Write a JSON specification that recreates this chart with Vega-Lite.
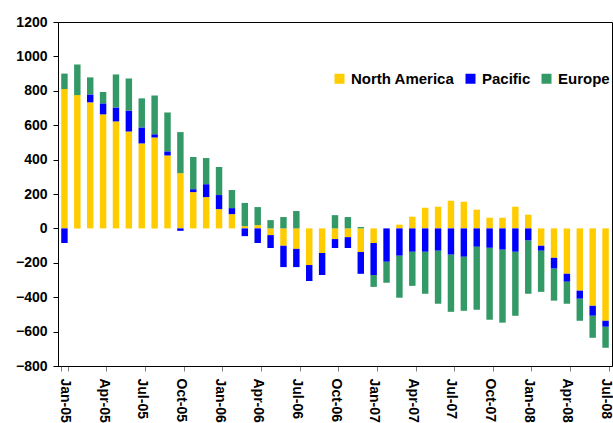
{
  "$schema": "https://vega.github.io/schema/vega-lite/v6.json",
  "autosize": {"type": "none"},
  "width": 554,
  "height": 344,
  "padding": {"left": 58, "top": 22, "right": 1, "bottom": 57},
  "background": "white",
  "config": {
    "view": {"stroke": "#000000", "strokeWidth": 1},
    "font": "Liberation Sans"
  },
  "datasets": {
    "series": [
      {"s": "North America", "k": 0},
      {"s": "Pacific", "k": 1},
      {"s": "Europe", "k": 2}
    ]
  },
  "data": {
    "values": [
      {"m": "Jan-05", "North America": 810, "Pacific": -85, "Europe": 90},
      {"m": "Feb-05", "North America": 775, "Pacific": 0, "Europe": 178},
      {"m": "Mar-05", "North America": 733, "Pacific": 46, "Europe": 99},
      {"m": "Apr-05", "North America": 663, "Pacific": 64, "Europe": 66},
      {"m": "May-05", "North America": 622, "Pacific": 81, "Europe": 192},
      {"m": "Jun-05", "North America": 564, "Pacific": 122, "Europe": 186},
      {"m": "Jul-05", "North America": 494, "Pacific": 93, "Europe": 169},
      {"m": "Aug-05", "North America": 529, "Pacific": 18, "Europe": 226},
      {"m": "Sep-05", "North America": 424, "Pacific": 24, "Europe": 226},
      {"m": "Oct-05", "North America": 321, "Pacific": -14, "Europe": 239},
      {"m": "Nov-05", "North America": 211, "Pacific": 17, "Europe": 187},
      {"m": "Dec-05", "North America": 182, "Pacific": 75, "Europe": 152},
      {"m": "Jan-06", "North America": 112, "Pacific": 82, "Europe": 163},
      {"m": "Feb-06", "North America": 83, "Pacific": 35, "Europe": 105},
      {"m": "Mar-06", "North America": 13, "Pacific": -45, "Europe": 135},
      {"m": "Apr-06", "North America": 19, "Pacific": -85, "Europe": 105},
      {"m": "May-06", "North America": -39, "Pacific": -75, "Europe": 48},
      {"m": "Jun-06", "North America": -101, "Pacific": -124, "Europe": 66},
      {"m": "Jul-06", "North America": -119, "Pacific": -106, "Europe": 101},
      {"m": "Aug-06", "North America": -213, "Pacific": -93, "Europe": 0},
      {"m": "Sep-06", "North America": -143, "Pacific": -128, "Europe": 0},
      {"m": "Oct-06", "North America": -62, "Pacific": -52, "Europe": 77},
      {"m": "Nov-06", "North America": -51, "Pacific": -63, "Europe": 66},
      {"m": "Dec-06", "North America": -137, "Pacific": -127, "Europe": 8},
      {"m": "Jan-07", "North America": -85, "Pacific": -186, "Europe": -69},
      {"m": "Feb-07", "North America": 0, "Pacific": -194, "Europe": -122},
      {"m": "Mar-07", "North America": 22, "Pacific": -159, "Europe": -244},
      {"m": "Apr-07", "North America": 68, "Pacific": -136, "Europe": -198},
      {"m": "May-07", "North America": 120, "Pacific": -136, "Europe": -244},
      {"m": "Jun-07", "North America": 126, "Pacific": -130, "Europe": -308},
      {"m": "Jul-07", "North America": 161, "Pacific": -153, "Europe": -332},
      {"m": "Aug-07", "North America": 155, "Pacific": -165, "Europe": -314},
      {"m": "Sep-07", "North America": 109, "Pacific": -107, "Europe": -366},
      {"m": "Oct-07", "North America": 62, "Pacific": -113, "Europe": -418},
      {"m": "Nov-07", "North America": 62, "Pacific": -124, "Europe": -424},
      {"m": "Dec-07", "North America": 126, "Pacific": -136, "Europe": -372},
      {"m": "Jan-08", "North America": 80, "Pacific": -71, "Europe": -309},
      {"m": "Feb-08", "North America": -101, "Pacific": -29, "Europe": -239},
      {"m": "Mar-08", "North America": -171, "Pacific": -63, "Europe": -186},
      {"m": "Apr-08", "North America": -263, "Pacific": -47, "Europe": -128},
      {"m": "May-08", "North America": -362, "Pacific": -47, "Europe": -128},
      {"m": "Jun-08", "North America": -450, "Pacific": -58, "Europe": -128},
      {"m": "Jul-08", "North America": -537, "Pacific": -35, "Europe": -122}
    ]
  },
  "transform": [
    {"fold": ["North America", "Pacific", "Europe"], "as": ["s", "v"]},
    {"lookup": "s", "from": {"data": {"name": "series"}, "key": "s", "fields": ["k"]}}
  ],
  "encoding": {
    "x": {
      "field": "m",
      "type": "ordinal",
      "sort": null,
      "scale": {"paddingInner": 0.5, "paddingOuter": 0.25},
      "axis": {
        "title": null,
        "values": ["Jan-05","Apr-05","Jul-05","Oct-05","Jan-06","Apr-06","Jul-06","Oct-06","Jan-07","Apr-07","Jul-07","Oct-07","Jan-08","Apr-08","Jul-08"],
        "labelAngle": 90,
        "labelAlign": "left",
        "labelBaseline": "middle",
        "labelFont": "Liberation Sans",
        "labelFontWeight": "bold",
        "labelFontSize": 14,
        "labelColor": "#000000",
        "labelPadding": 7,
        "tickBand": "extent",
        "ticks": true,
        "tickSize": 5,
        "tickColor": "#808080",
        "domainColor": "#000000",
        "labelOverlap": false,
        "labelBound": false
      }
    }
  },
  "layer": [
    {
      "mark": {"type": "bar"},
      "encoding": {
        "y": {
          "field": "v",
          "type": "quantitative",
          "stack": "zero",
          "scale": {"domain": [-800, 1200], "nice": false, "zero": false},
          "axis": {
            "title": null,
            "values": [-800, -600, -400, -200, 0, 200, 400, 600, 800, 1000, 1200],
            "format": "d",
            "grid": false,
            "labelOverlap": false,
            "labelFlush": false,
            "labelFont": "Liberation Sans",
            "labelFontWeight": "bold",
            "labelFontSize": 14,
            "labelColor": "#000000",
            "labelPadding": 6,
            "tickSize": 5,
            "tickColor": "#000000",
            "domainColor": "#000000"
          }
        },
        "color": {
          "field": "s",
          "type": "nominal",
          "sort": ["North America", "Pacific", "Europe"],
          "scale": {
            "domain": ["North America", "Pacific", "Europe"],
            "range": ["#FFCC00", "#0000FF", "#339966"]
          },
          "legend": {
            "title": null,
            "orient": "none",
            "legendX": 274,
            "legendY": 49,
            "direction": "horizontal",
            "padding": 0,
            "symbolType": "square",
            "symbolSize": 100,
            "symbolStrokeWidth": 0,
            "symbolOpacity": 1,
            "labelFont": "Liberation Sans",
            "labelFontWeight": "bold",
            "labelFontSize": 15,
            "labelColor": "#000000",
            "labelOffset": 4,
            "columnPadding": 8,
            "labelLimit": 300
          }
        },
        "order": {"field": "k", "type": "quantitative", "sort": "ascending"}
      }
    },
    {
      "mark": {"type": "rule", "color": "#000000", "strokeWidth": 1.5},
      "encoding": {
        "y": {
          "datum": 0,
          "type": "quantitative",
          "axis": {
            "title": null,
            "values": [-800, -600, -400, -200, 0, 200, 400, 600, 800, 1000, 1200],
            "format": "d",
            "grid": false,
            "labelOverlap": false,
            "labelFlush": false,
            "labelFont": "Liberation Sans",
            "labelFontWeight": "bold",
            "labelFontSize": 14,
            "labelColor": "#000000",
            "labelPadding": 6,
            "tickSize": 5,
            "tickColor": "#000000",
            "domainColor": "#000000"
          }
        }
      }
    }
  ]
}
